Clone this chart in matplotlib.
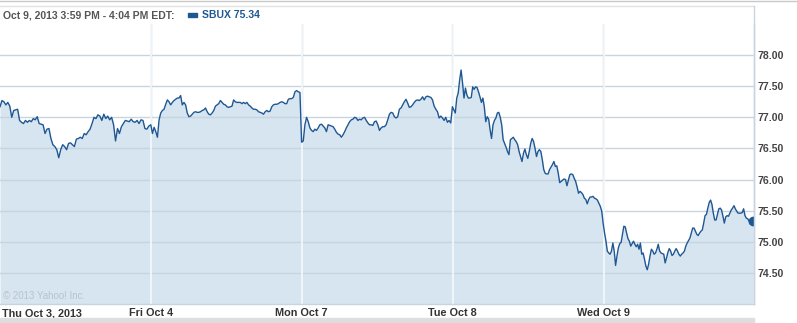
import numpy as np
import matplotlib
matplotlib.use("Agg")
import matplotlib.pyplot as plt

# ---------------- data ----------------
day_labels = ["Thu Oct 3, 2013", "Fri Oct 4", "Mon Oct 7", "Tue Oct 8", "Wed Oct 9"]

thu = [77.17, 77.27, 77.25, 77.20, 77.24, 77.18, 77.00, 77.11, 77.12, 77.13, 76.95, 76.92,
       76.90, 76.95, 76.92, 76.95, 76.93, 76.98, 76.96, 77.01, 76.90, 76.89, 76.88, 76.74,
       76.81, 76.82, 76.66, 76.56, 76.53, 76.48, 76.35, 76.48, 76.56, 76.53, 76.48, 76.58,
       76.59, 76.56, 76.53, 76.65, 76.66, 76.68, 76.66, 76.74, 76.72, 76.77, 76.81, 76.90,
       77.00, 76.98, 77.04, 77.02, 76.95, 77.05, 76.98, 77.02, 76.96, 77.00, 76.88, 76.62,
       76.82, 76.74, 76.85, 76.90, 76.95, 76.94, 76.93, 76.97, 76.93, 76.92, 76.95, 76.90,
       76.96, 76.95, 76.82, 76.81, 76.86]

fri = [76.88, 76.74, 76.84, 76.77, 76.68, 76.96, 77.07, 77.11, 77.13, 77.21, 77.28, 77.25,
       77.20, 77.24, 77.27, 77.29, 77.31, 77.31, 77.35, 77.20, 77.24, 77.20, 77.07, 77.01,
       77.02, 77.05, 77.08, 77.09, 77.08, 77.08, 77.09, 77.11, 77.12, 77.15, 77.09, 77.05,
       77.04, 77.07, 77.11, 77.18, 77.20, 77.22, 77.27, 77.24, 77.21, 77.20, 77.17, 77.16,
       77.17, 77.18, 77.28, 77.25, 77.24, 77.24, 77.24, 77.22, 77.24, 77.22, 77.24, 77.20,
       77.18, 77.15, 77.13, 77.13, 77.12, 77.09, 77.08, 77.07, 77.05, 77.09, 77.11, 77.09,
       77.10, 77.17, 77.20, 77.21, 77.21, 77.22, 77.24, 77.25, 77.24, 77.22, 77.22, 77.29,
       77.30, 77.30, 77.32, 77.41, 77.43, 77.41, 77.40]

mon = [76.60, 76.62, 76.88, 77.00, 76.93, 76.83, 76.79, 76.77, 76.81, 76.79, 76.83, 76.88,
       76.89, 76.86, 76.83, 76.77, 76.88, 76.87, 76.86, 76.85, 76.81, 76.76, 76.73, 76.72,
       76.68, 76.72, 76.77, 76.83, 76.88, 76.93, 76.96, 76.97, 77.00, 76.99, 76.95, 76.97,
       76.96, 76.99, 77.00, 76.95, 76.91, 76.88, 76.88, 76.87, 76.93, 76.94, 76.88, 76.79,
       76.83, 76.85, 76.85, 76.88, 76.96, 77.05, 77.08, 77.07, 77.01, 76.99, 77.01, 77.13,
       77.15, 77.20, 77.25, 77.29, 77.23, 77.16, 77.17, 77.20, 77.24, 77.27, 77.28, 77.27,
       77.29, 77.33, 77.28, 77.33, 77.34, 77.33, 77.32, 77.28, 77.18, 77.13, 77.09, 76.99,
       77.02, 76.99, 76.95, 77.00, 76.92, 76.95, 76.91]

tue = [77.17, 77.12, 77.07, 77.31, 77.39, 77.60, 77.76, 77.55, 77.31, 77.47, 77.36, 77.31,
       77.31, 77.32, 77.49, 77.45, 77.49, 77.48, 77.41, 77.33, 77.24, 77.31, 77.17, 76.93,
       77.01, 76.97, 76.80, 76.66, 76.88, 76.95, 76.99, 77.07, 77.08, 77.00, 76.88, 76.64,
       76.58, 76.52, 76.45, 76.40, 76.64, 76.66, 76.68, 76.64, 76.61, 76.56, 76.45, 76.37,
       76.29, 76.42, 76.49, 76.40, 76.34, 76.45, 76.58, 76.66, 76.61, 76.50, 76.37, 76.45,
       76.48, 76.45, 76.32, 76.16, 76.10, 76.09, 76.09, 76.16, 76.20, 76.24, 76.29, 76.21,
       76.22, 76.10, 75.95, 75.97, 75.99, 76.01, 76.00, 75.90, 75.99, 76.08, 76.09, 76.08,
       76.02, 75.97, 75.88, 75.78, 75.81, 75.79, 75.76, 75.70, 75.68, 75.61, 75.68, 75.72,
       75.72, 75.73, 75.70, 75.69, 75.67, 75.62, 75.57, 75.49]

wed = [75.29, 75.14, 75.01, 74.85, 74.82, 74.80, 74.85, 74.98, 74.85, 74.62, 74.77, 74.90,
       74.97, 74.99, 75.12, 75.25, 75.24, 75.14, 75.05, 75.01, 74.93, 74.97, 75.01, 74.96,
       74.92, 74.96, 74.88, 74.98, 74.80, 74.82, 74.72, 74.61, 74.55, 74.64, 74.77, 74.88,
       74.85, 74.80, 74.82, 74.88, 74.96, 74.85, 74.82, 74.81, 74.80, 74.66, 74.74, 74.83,
       74.89, 74.85, 74.78, 74.80, 74.85, 74.89, 74.85, 74.80, 74.77, 74.80, 74.82, 74.85,
       74.93, 74.98, 75.02, 75.06, 75.14, 75.22, 75.22, 75.17, 75.12, 75.10, 75.14, 75.17,
       75.19, 75.30, 75.42, 75.44, 75.54, 75.63, 75.67, 75.60, 75.46, 75.35, 75.35, 75.44,
       75.53, 75.54, 75.51, 75.41, 75.30, 75.40, 75.42, 75.41, 75.46, 75.51, 75.54, 75.58,
       75.53, 75.49, 75.46, 75.46, 75.46, 75.47, 75.53, 75.42, 75.38, 75.37, 75.33, 75.28,
       75.30, 75.34]

days = [thu, fri, mon, tue, wed]
y_ticks = [74.5, 75.0, 75.5, 76.0, 76.5, 77.0, 77.5, 78.0]
header = "Oct 9, 2013 3:59 PM - 4:04 PM EDT:"
legend_label = "SBUX 75.34"
copyright_text = "\u00a9 2013 Yahoo! Inc."

# ---------------- build series ----------------
xs, ys = [], []
for d, vals in enumerate(days):
    n = len(vals)
    xs.append(d + np.arange(n) / (n - 1) * 0.995 if d == len(days) - 1 else d + np.arange(n) / n)
    ys.append(np.array(vals))
x = np.concatenate(xs)
y = np.concatenate(ys)

LINE = "#1f5793"
FILL = "#d6e5f0"
GRID = "#c7d5e0"
FONT = "Liberation Sans"

fig = plt.figure(figsize=(7.97, 3.23), dpi=100)
ax = fig.add_axes([0.0, 19 / 323, 754 / 797, 280 / 323])
ymin, ymax = 74.0, 78.5
ax.set_xlim(0, 5)
ax.set_ylim(ymin, ymax)

ax.fill_between(x, y, ymin, color=FILL, lw=0, zorder=1)
for t in y_ticks:
    ax.axhline(t, color=GRID, lw=1, zorder=2)
for d in range(1, 5):
    ax.axvline(d, color=GRID, lw=1, zorder=0.5)
    ax.axvline(d + 0.004, color="#f3f7fa", lw=1.3, zorder=2.2)
ax.plot(x, y, color=LINE, lw=1.0, zorder=3, solid_joinstyle="round")
ax.plot([x[-1]], [y[-1]], "o", color=LINE, ms=6, zorder=4)

for s in ["top", "left"]:
    ax.spines[s].set_visible(False)
for s in ["right", "bottom"]:
    ax.spines[s].set_color(GRID)
    ax.spines[s].set_linewidth(1)

ax.yaxis.tick_right()
ax.set_yticks(y_ticks)
ax.set_yticklabels([f"{t:.2f}" for t in y_ticks], fontsize=7.6, fontweight="bold",
                   color="#444444", family=FONT)
ax.tick_params(axis="y", length=0, pad=2.5)

ax.set_xticks([0.013, 1, 2, 3, 4])
ax.set_xticklabels(day_labels, fontsize=7.8, fontweight="bold", color="#333333", family=FONT)
ax.get_xticklabels()[0].set_ha("left")
ax.tick_params(axis="x", length=0, pad=3)

ax.text(0.004, 0.018, copyright_text, transform=ax.transAxes, fontsize=7, color="#b8c4cc",
        zorder=5, family=FONT)

# header
fig.text(3 / 797, 1 - 15 / 323, header, fontsize=7.5, fontweight="bold", color="#555555",
         va="center", family=FONT)
fig.patches.append(plt.Rectangle((188 / 797, 1 - 17 / 323), 9 / 797, 4 / 323, transform=fig.transFigure,
                                 color=LINE, figure=fig))
fig.text(202 / 797, 1 - 15 / 323, legend_label, fontsize=7.5, fontweight="bold", color=LINE,
         va="center", family=FONT)

# frame lines
fig.add_artist(plt.Line2D([0, 1], [1 - 0.5 / 323] * 2, transform=fig.transFigure, color="#c8c8c8", lw=1))
fig.add_artist(plt.Line2D([0, 754 / 797], [1 - 6 / 323] * 2, transform=fig.transFigure, color="#e2e2e2", lw=1))
fig.add_artist(plt.Line2D([754 / 797] * 2, [19 / 323, 1 - 6 / 323], transform=fig.transFigure, color=GRID, lw=1))
fig.patches.append(plt.Rectangle((0, 0), 754 / 797, 5 / 323, transform=fig.transFigure,
                                 color="#dedede", figure=fig))

fig.savefig("out.png", dpi=100)
